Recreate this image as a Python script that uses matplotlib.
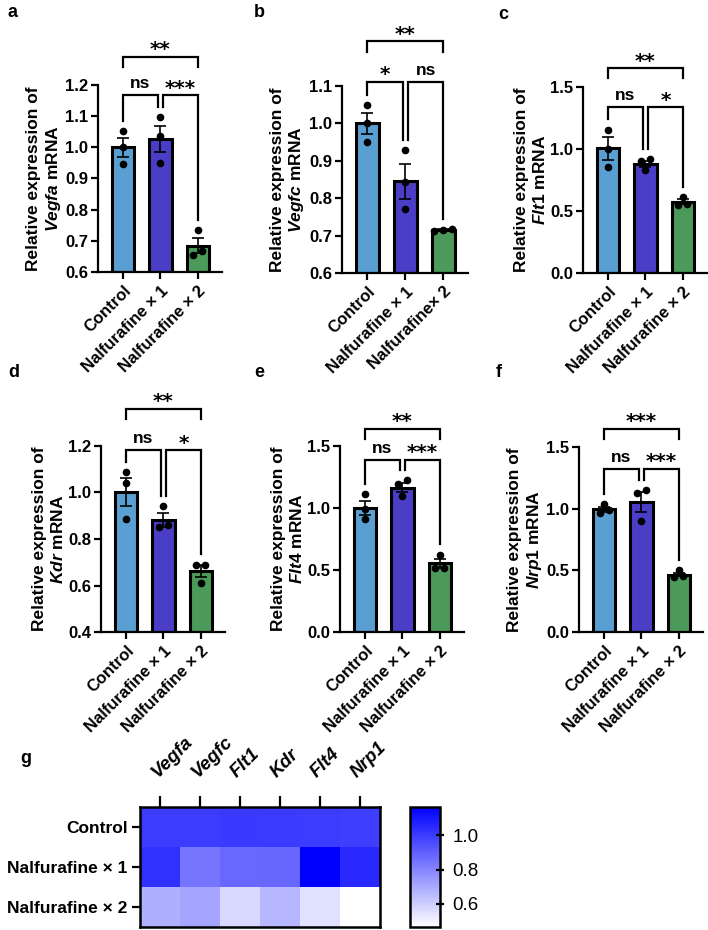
import numpy as np
import matplotlib
matplotlib.use("Agg")
import matplotlib.pyplot as plt
from matplotlib.colors import LinearSegmentedColormap

plt.rcParams['font.family'] = ['Liberation Sans', 'DejaVu Sans']
plt.rcParams['font.weight'] = 'bold'
plt.rcParams['mathtext.fontset'] = 'custom'
plt.rcParams['mathtext.it'] = 'Liberation Sans:italic:bold'
plt.rcParams['mathtext.rm'] = 'Liberation Sans:bold'

#===========================================================#

### Data

genes = ['Vegfa', 'Vegfc', 'Flt1', 'Kdr', 'Flt4', 'Nrp1']
groups = ['Control', 'Nalfurafine × 1', 'Nalfurafine × 2']
groups_b = ['Control', 'Nalfurafine × 1', 'Nalfurafine× 2']

vegfa_mean = [1.000, 1.028, 0.685]
vegfa_sem = [0.030, 0.042, 0.025]
vegfa_pts = [[1.053, 1.000, 0.948], [1.096, 1.036, 0.951], [0.734, 0.668, 0.655]]

vegfc_mean = [1.000, 0.845, 0.714]
vegfc_sem = [0.029, 0.046, 0.003]
vegfc_pts = [[1.049, 1.000, 0.949], [0.928, 0.842, 0.771], [0.713, 0.718, 0.716]]

flt1_mean = [1.005, 0.879, 0.573]
flt1_sem = [0.090, 0.028, 0.020]
flt1_pts = [[1.157, 1.000, 0.857], [0.916, 0.905, 0.830], [0.612, 0.560, 0.550]]

kdr_mean = [1.002, 0.882, 0.663]
kdr_sem = [0.062, 0.029, 0.026]
kdr_pts = [[1.088, 1.041, 0.888], [0.940, 0.862, 0.850], [0.690, 0.690, 0.610]]

flt4_mean = [1.000, 1.165, 0.553]
flt4_sem = [0.058, 0.035, 0.035]
flt4_pts = [[1.110, 0.990, 0.910], [1.222, 1.195, 1.100], [0.625, 0.520, 0.515]]

nrp1_mean = [0.995, 1.054, 0.466]
nrp1_sem = [0.022, 0.080, 0.015]
nrp1_pts = [[1.040, 0.990, 0.965], [1.149, 1.127, 0.900], [0.505, 0.455, 0.450]]

# significance: (label, group i, group j)
sig_a = [('ns', 0, 1), ('***', 1, 2), ('**', 0, 2)]
sig_b = [('*', 0, 1), ('ns', 1, 2), ('**', 0, 2)]
sig_c = [('ns', 0, 1), ('*', 1, 2), ('**', 0, 2)]
sig_d = [('ns', 0, 1), ('*', 1, 2), ('**', 0, 2)]
sig_e = [('ns', 0, 1), ('***', 1, 2), ('**', 0, 2)]
sig_f = [('ns', 0, 1), ('***', 1, 2), ('***', 0, 2)]

#===========================================================#

bar_colors = ['#5a9fd2', '#4a3ec6', '#4b9a5a']
W, H = 708, 930

fig = plt.figure(figsize=(W / 100, H / 100), dpi=100)


def px_axes(left, top, right, bottom):
    return fig.add_axes([left / W, 1 - bottom / H, (right - left) / W, (bottom - top) / H])


def spread(vals, rng):
    # horizontal offsets for points that overlap
    offs = np.zeros(len(vals))
    order = np.argsort(vals)
    clusters = [[order[0]]]
    for k in order[1:]:
        if abs(vals[k] - vals[clusters[-1][-1]]) < 0.03 * rng:
            clusters[-1].append(k)
        else:
            clusters.append([k])
    for c in clusters:
        n = len(c)
        for m, k in enumerate(c):
            offs[k] = (m - (n - 1) / 2) * 0.24
    return offs


def bar_panel(ax, mean, sem, pts, labels, ylim, step, gene, sig, lo, hi, letter):
    x = np.arange(3)
    rng = ylim[1] - ylim[0]
    ax.bar(x, np.array(mean) - ylim[0], bottom=ylim[0], width=0.6,
           color=bar_colors, edgecolor='black', linewidth=2.2, zorder=2)
    ax.errorbar(x, mean, yerr=sem, fmt='none', ecolor='black', elinewidth=1.2,
                capsize=4.5, capthick=1.2, zorder=3)
    for i in range(3):
        offs = spread(np.array(pts[i]), rng)
        ax.plot(x[i] + offs, pts[i], 'o', color='black', markersize=4.5, zorder=4, clip_on=False)
    ax.set_xlim(-0.67, 2.65)
    ax.set_ylim(*ylim)
    ticks = np.arange(ylim[0], ylim[1] + 1e-9, step)
    ax.set_yticks(ticks)
    ax.set_yticklabels(['%.1f' % v for v in ticks])
    ax.set_xticks(x)
    ax.set_xticklabels(labels, rotation=45, ha='right', rotation_mode='anchor', fontsize=9.8)
    for s in ['top', 'right']:
        ax.spines[s].set_visible(False)
    for s in ['left', 'bottom']:
        ax.spines[s].set_linewidth(1.6)
    ax.tick_params(width=1.6, length=5, labelsize=12)
    ax.tick_params(axis='x', pad=3)
    ax.tick_params(axis='y', pad=2)
    ax.set_ylabel('Relative expression of\n$\\mathit{' + gene + '}$ mRNA', fontsize=12.5,
                  fontweight='bold')
    ax.yaxis.set_label_coords(-35 / 124, 0.5)

    # data tops for bracket legs
    tops = [max(max(pts[i]), mean[i] + sem[i]) + 0.055 * rng for i in range(3)]
    for lab, i, j in sig:
        if j - i == 2:
            y = hi
            xi, xj = i, j
            bi, bj = y - 0.055 * rng, y - 0.055 * rng
        else:
            y = lo
            xi = i + (0.07 if i == 1 else 0)
            xj = j - (0.07 if j == 1 else 0)
            bi, bj = tops[i], tops[j]
        ax.plot([xi, xi, xj, xj], [bi, y, y, bj], color='black', lw=1.6, clip_on=False,
                solid_joinstyle='miter')
        if lab == 'ns':
            ax.annotate(lab, ((xi + xj) / 2, y), xytext=(0, 5), textcoords='offset points',
                        ha='center', va='baseline', fontsize=12.5, fontweight='bold',
                        annotation_clip=False)
        else:
            ax.annotate(lab, ((xi + xj) / 2, y), xytext=(0, 1), textcoords='offset points',
                        ha='center', va='baseline', fontsize=14.5, fontweight='bold',
                        family='DejaVu Sans', annotation_clip=False)
    fig.text(letter[0] / W, 1 - letter[1] / H, letter[2], fontsize=13, fontweight='bold',
             ha='left', va='top')


ax_a = px_axes(98, 85, 222, 272)
bar_panel(ax_a, vegfa_mean, vegfa_sem, vegfa_pts, groups, (0.6, 1.2), 0.1, 'Vegfa', sig_a,
          1.168, 1.291, (8, 4, 'a'))
ax_b = px_axes(342, 86, 468, 273)
bar_panel(ax_b, vegfc_mean, vegfc_sem, vegfc_pts, groups_b, (0.6, 1.1), 0.1, 'Vegfc', sig_b,
          1.112, 1.219, (254, 4, 'b'))
ax_c = px_axes(583, 87, 707, 273)
bar_panel(ax_c, flt1_mean, flt1_sem, flt1_pts, groups, (0.0, 1.5), 0.5, 'Flt1', sig_c,
          1.339, 1.653, (498, 6, 'c'))
ax_d = px_axes(101, 446, 225, 632)
bar_panel(ax_d, kdr_mean, kdr_sem, kdr_pts, groups, (0.4, 1.2), 0.2, 'Kdr', sig_d,
          1.181, 1.360, (8, 364, 'd'))
ax_e = px_axes(340, 446, 464, 632)
bar_panel(ax_e, flt4_mean, flt4_sem, flt4_pts, groups, (0.0, 1.5), 0.5, 'Flt4', sig_e,
          1.390, 1.640, (254, 364, 'e'))
ax_f = px_axes(579, 447, 703, 632)
bar_panel(ax_f, nrp1_mean, nrp1_sem, nrp1_pts, groups, (0.0, 1.5), 0.5, 'Nrp1', sig_f,
          1.325, 1.648, (496, 364, 'f'))

### Heatmap
heat = np.array([vegfa_mean, vegfc_mean, flt1_mean, kdr_mean, flt4_mean, nrp1_mean]).T
cmap = LinearSegmentedColormap.from_list('wb', ['#ffffff', '#0000ff'])

ax_g = px_axes(140, 807, 380, 927)
im = ax_g.imshow(heat, cmap=cmap, vmin=heat.min(), vmax=heat.max(), aspect='auto')
ax_g.set_xticks(np.arange(len(genes)))
ax_g.set_xticklabels(genes, rotation=45, ha='left', rotation_mode='anchor', fontsize=13.5,
                     style='italic', fontweight='bold')
ax_g.xaxis.tick_top()
ax_g.set_yticks(np.arange(len(groups)))
ax_g.set_yticklabels(groups, fontsize=12.5, fontweight='bold')
ax_g.tick_params(axis='x', length=8, width=1.6, pad=11)
ax_g.tick_params(axis='y', length=6, width=1.6, pad=3)
for s in ax_g.spines.values():
    s.set_linewidth(1.8)

cax = px_axes(410, 807, 440, 927)
cb = fig.colorbar(im, cax=cax)
cb.set_ticks([0.6, 0.8, 1.0])
cb.set_ticklabels(['0.6', '0.8', '1.0'])
cb.outline.set_linewidth(1.8)
cax.tick_params(direction='inout', length=6, width=1.6, labelsize=13.5, pad=6)
for t in cax.get_yticklabels():
    t.set_fontweight('normal')

fig.text(20 / W, 1 - 750 / H, 'g', fontsize=13, fontweight='bold', ha='left', va='top')

plt.savefig('out.png', dpi=100)
